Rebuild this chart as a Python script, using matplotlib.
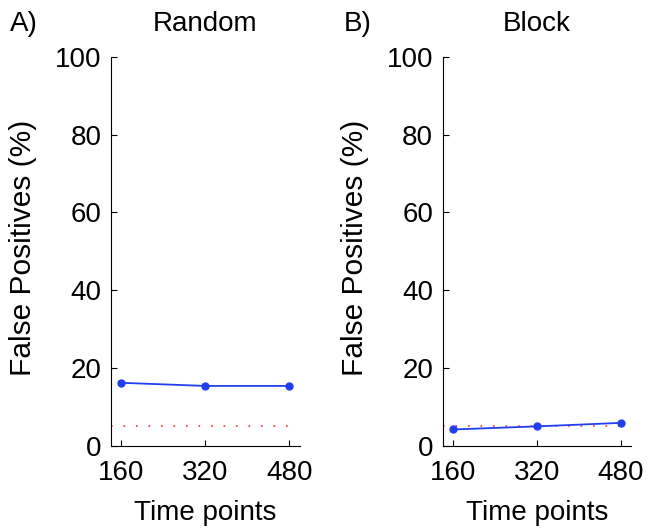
import matplotlib.pyplot as plt

plt.rcParams['font.family'] = ['Liberation Sans', 'DejaVu Sans']

# data
time_points = [160, 320, 480]
random_fp = [16.2, 15.4, 15.4]
block_fp = [4.2, 5.0, 5.9]
chance_level = 5
titles = ['Random', 'Block']
panel_labels = ['A)', 'B)']
y_ticks = [0, 20, 40, 60, 80, 100]

fig = plt.figure(figsize=(6.53, 5.32), dpi=100)
ax_left = fig.add_axes([0.170, 0.162, 0.289, 0.731])
ax_right = fig.add_axes([0.678, 0.162, 0.289, 0.731])

blue = '#2040f0'
fs = 20
label_x = [0.015, 0.527]
for ax, vals, title, lab, lx in zip([ax_left, ax_right], [random_fp, block_fp],
                                    titles, panel_labels, label_x):
    ax.plot([140, 480], [chance_level, chance_level], color='#ff3030',
            linestyle=(0, (1, 6.5)), linewidth=1.2)
    ax.plot(time_points, vals, color=blue, marker='o', markersize=5, linewidth=1.3)
    ax.set_xlim(140, 500)
    ax.set_ylim(0, 100)
    ax.set_xticks(time_points)
    ax.set_yticks(y_ticks)
    ax.spines['top'].set_visible(False)
    ax.spines['right'].set_visible(False)
    ax.tick_params(direction='in', labelsize=fs, length=4)
    ax.tick_params(axis='y', pad=7)
    ax.tick_params(axis='x', pad=10)
    ax.set_xlabel('Time points', fontsize=fs)
    ax.set_ylabel('False Positives (%)', fontsize=21.5)
    ax.xaxis.set_label_coords(0.5, -0.14)
    ax.yaxis.set_label_coords(-0.39, 0.51)
    pos = ax.get_position()
    fig.text(pos.x0 + pos.width / 2, 0.955, title, fontsize=fs, ha='center', va='center')
    fig.text(lx, 0.955, lab, fontsize=fs, ha='left', va='center')

plt.savefig('out.png', dpi=100)
